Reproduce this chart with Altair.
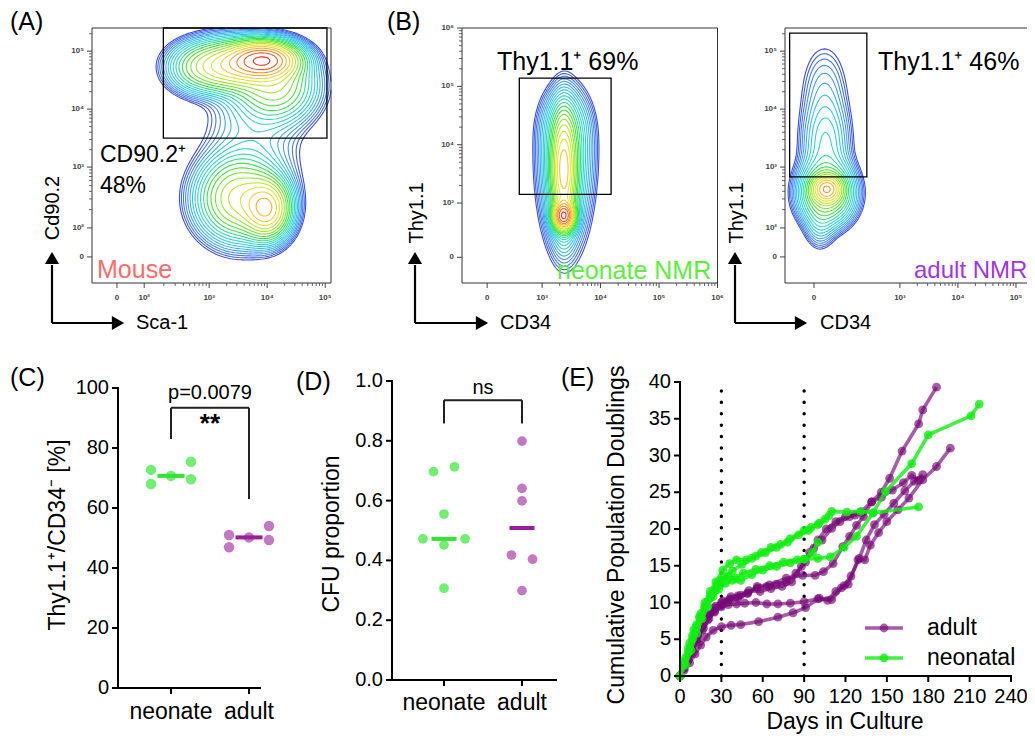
import numpy as np
import pandas as pd
import altair as alt

FONT = "Liberation Sans, Arial, Helvetica, sans-serif"

# ====================== DATA ======================
# ---- (A) mouse: Sca-1 (x) vs Cd90.2 (y); display units in decades (10^3 -> 3)
a_mu_x = [3.95, 3.35, 4.15, 2.75, 4.00, 3.50, 3.75]
a_mu_y = [4.85, 4.75, 4.40, 4.70, 2.28, 2.45, 3.40]
a_sd_x = [0.32, 0.45, 0.40, 0.30, 0.22, 0.40, 0.50]
a_sd_y = [0.17, 0.25, 0.35, 0.25, 0.28, 0.40, 0.90]
a_wt = [1.00, 0.45, 0.25, 0.08, 0.55, 0.35, 0.05]
a_xtick_pos = [1.41, 1.88, 3.0, 4.0, 5.0]
a_xtick_lab = ["0", "10²", "10³", "10⁴", "10⁵"]
a_ytick_pos = [1.45, 1.95, 3.0, 4.0, 5.0]
a_ytick_lab = ["0", "10²", "10³", "10⁴", "10⁵"]
a_gate = [2.21, 5.03, 3.50, 5.40]

# ---- (B) neonate NMR: CD34 (x) vs Thy1.1 (y)
b1_mu_x = [3.37, 3.37, 3.40, 3.40, 3.42]
b1_mu_y = [2.78, 3.55, 3.45, 4.35, 3.90]
b1_sd_x = [0.10, 0.12, 0.26, 0.25, 0.28]
b1_sd_y = [0.13, 0.55, 0.80, 0.35, 0.55]
b1_wt = [1.00, 0.50, 0.10, 0.05, 0.04]
b1_xtick_pos = [2.06, 3.0, 4.0, 5.0, 6.0]
b1_xtick_lab = ["0", "10³", "10⁴", "10⁵", "10⁶"]
b1_ytick_pos = [2.07, 3.0, 4.0, 5.0, 6.0]
b1_ytick_lab = ["0", "10³", "10⁴", "10⁵", "10⁶"]
b1_gate = [2.61, 4.18, 3.15, 5.14]

# ---- (B) adult NMR
b2_mu_x = [1.74, 1.74, 1.72, 1.70, 1.62]
b2_mu_y = [2.62, 2.55, 3.40, 4.35, 2.00]
b2_sd_x = [0.14, 0.26, 0.24, 0.25, 0.15]
b2_sd_y = [0.13, 0.30, 0.45, 0.50, 0.25]
b2_wt = [1.00, 0.45, 0.12, 0.045, 0.06]
b2_xtick_pos = [1.52, 3.0, 4.0, 5.0]
b2_xtick_lab = ["0", "10³", "10⁴", "10⁵"]
b2_ytick_pos = [1.45, 1.95, 3.0, 4.0, 5.0]
b2_ytick_lab = ["0", "10²", "10³", "10⁴", "10⁵"]
b2_gate = [1.10, 2.43, 2.83, 5.31]

# ---- (C) Thy1.1+/CD34- [%]
c_neonate = [72.7, 68.0, 70.7, 75.4, 69.6]
c_neonate_slot = [-1, -1, 0, 1, 1]
c_adult = [51.0, 46.9, 50.2, 54.0, 49.3]
c_adult_slot = [-1, -1, 0, 1, 1]
c_ytick = [0, 20, 40, 60, 80, 100]

# ---- (D) CFU proportion
d_neonate = [0.697, 0.713, 0.555, 0.472, 0.472, 0.452, 0.307]
d_neonate_slot = [-1, 1, 0, -2, 2, 0, 0]
d_adult = [0.799, 0.641, 0.599, 0.418, 0.404, 0.299]
d_adult_slot = [0, 0, 0, -1, 1, 0]
d_ytick = [0.0, 0.2, 0.4, 0.6, 0.8, 1.0]
d_ytick_lab = ["0.0", "0.2", "0.4", "0.6", "0.8", "1.0"]

cats = ["neonate", "adult"]

# ---- (E) cumulative population doublings
adult1_days = [0, 3, 6, 9, 13, 17, 21, 25, 30, 35, 42, 49, 56, 63, 70, 77, 84, 91, 97, 103, 110, 116, 123, 131, 139, 146, 152, 161, 173, 176, 186]
adult1_pd = [0, 1.0, 2.2, 3.5, 5.0, 6.5, 7.8, 8.8, 9.6, 10.1, 10.6, 11.2, 12.0, 12.2, 12.5, 12.8, 14.0, 15.5, 17.4, 18.5, 20.1, 21.0, 21.7, 22.3, 23.7, 25.0, 26.9, 30.6, 34.3, 36.2, 39.3]
adult2_days = [0, 3, 7, 11, 15, 19, 24, 30, 37, 44, 57, 71, 82, 91, 101, 110, 117, 122, 129, 134, 138, 144, 150, 158, 166, 176, 186, 196]
adult2_pd = [0, 0.8, 1.8, 3.0, 4.2, 5.3, 6.2, 6.7, 6.9, 7.0, 7.4, 8.0, 8.6, 9.3, 10.6, 10.4, 12.0, 12.5, 15.8, 15.8, 17.8, 19.5, 21.0, 22.6, 24.2, 26.7, 28.5, 31.0]
adult3_days = [0, 4, 8, 12, 16, 20, 25, 30, 35, 41, 47, 55, 63, 71, 80, 90, 100, 107, 113, 119, 124, 130, 135, 141, 148, 155, 163, 170, 176]
adult3_pd = [0, 1.5, 3.0, 4.6, 6.2, 7.6, 8.7, 9.4, 9.7, 9.8, 9.9, 10.0, 9.8, 9.8, 9.9, 10.1, 10.5, 10.3, 11.5, 12.3, 13.6, 16.0, 18.5, 20.6, 22.0, 23.5, 25.2, 26.5, 27.4]
adult4_days = [0, 4, 8, 12, 16, 20, 25, 30, 36, 42, 49, 56, 65, 77, 89, 98, 104, 111, 118, 123, 128, 133, 139, 146, 154, 162, 168, 173]
adult4_pd = [0, 1.8, 3.5, 5.0, 6.7, 8.2, 9.3, 10.0, 10.5, 10.9, 11.3, 12.2, 12.4, 13.3, 13.7, 13.7, 14.2, 15.3, 17.6, 19.0, 20.5, 21.7, 23.7, 24.3, 25.3, 26.3, 27.3, 26.6]
adult5_days = [0, 5, 9, 13, 17, 21, 26, 31, 37, 44, 50, 58, 66, 74, 81, 88, 94, 100, 106, 113, 120, 127, 132]
adult5_pd = [0, 2.0, 3.9, 5.5, 7.0, 8.4, 9.5, 10.2, 10.8, 11.0, 11.6, 11.5, 11.9, 12.2, 12.8, 14.9, 16.8, 18.5, 20.0, 21.0, 21.7, 21.9, 22.3]
neo1_days = [0, 3, 6, 9, 12, 15, 18, 22, 26, 30, 35, 40, 46, 55, 65, 75, 85, 90, 100, 109, 119, 128, 140, 149, 168, 180, 211, 217]
neo1_pd = [0, 1.6, 3.2, 5.0, 6.6, 8.0, 9.3, 10.6, 11.8, 13.0, 13.5, 13.3, 14.0, 14.5, 15.0, 15.5, 15.8, 15.9, 16.0, 16.2, 17.5, 19.0, 22.2, 25.1, 28.9, 32.8, 35.4, 37.0]
neo2_days = [0, 3, 6, 9, 12, 15, 18, 22, 26, 31, 36, 41, 48, 55, 62, 70, 78, 86, 93, 100, 105, 110, 121, 131, 140, 173]
neo2_pd = [0, 2.0, 3.8, 5.5, 7.0, 8.5, 10.0, 11.5, 12.8, 14.4, 15.3, 15.8, 15.8, 16.3, 16.8, 17.5, 18.2, 19.2, 19.8, 20.6, 21.3, 22.4, 22.3, 22.4, 22.2, 23.0]
neo3_days = [0, 4, 7, 10, 14, 18, 22, 27, 32, 38, 45, 52, 59, 66, 73, 80, 90, 95, 101, 108]
neo3_pd = [0, 2.5, 4.5, 6.3, 8.0, 9.5, 11.0, 12.5, 13.5, 14.3, 15.2, 16.0, 16.8, 17.5, 17.9, 18.7, 19.8, 20.2, 20.8, 21.8]
neo4_days = [0, 4, 8, 12, 16, 20, 24, 28, 33, 38, 44, 52, 60, 70, 80, 90, 96, 100]
neo4_pd = [0, 1.5, 3.5, 5.8, 7.8, 9.4, 10.8, 11.8, 12.6, 13.0, 13.0, 13.8, 14.4, 14.9, 15.4, 15.9, 16.8, 18.2]
e_passage_days = [30, 90]
e_xtick = [0, 30, 60, 90, 120, 150, 180, 210, 240]
e_ytick = [0, 5, 10, 15, 20, 25, 30, 35, 40]

# ====================== HELPERS ======================
JET_STOPS = [0.0, 0.12, 0.28, 0.42, 0.55, 0.68, 0.78, 0.88, 1.0]
JET_COLS = ["#3d4fdc", "#4c86ef", "#37c3ea", "#2fdcc0", "#3be23b",
            "#a6ea2e", "#efe23a", "#f5a332", "#e8321f"]
JET = alt.Scale(domain=JET_STOPS, range=JET_COLS, interpolate="rgb")
PURPLE, GREEN = "#780878", "#11ee11"
P_OP, G_OP = 0.66, 0.8


def lin(domain, rng):
    return alt.Scale(domain=list(domain), range=list(rng), nice=False, zero=False, padding=0)


def density(mx, my, sx, sy, w, dom_u, dom_v, n=120):
    u = np.linspace(dom_u[0], dom_u[1], n)
    v = np.linspace(dom_v[0], dom_v[1], n)
    U, V = np.meshgrid(u, v)
    Z = np.zeros_like(U)
    for a, b, c, d, e in zip(mx, my, sx, sy, w):
        Z += e * np.exp(-0.5 * (((U - a) / c) ** 2 + ((V - b) / d) ** 2))
    return u, v, Z


def trace(u, v, Z, level):
    A = Z >= level
    cnt = A[:-1, :-1].astype(int) + A[:-1, 1:] + A[1:, :-1] + A[1:, 1:]
    cells = np.argwhere((cnt > 0) & (cnt < 4))
    pts, adj = {}, {}

    def ept(key):
        if key in pts:
            return
        kind, j, i = key
        if kind == "h":
            za, zb = Z[j, i], Z[j, i + 1]
            t = (level - za) / (zb - za)
            pts[key] = (u[i] + t * (u[i + 1] - u[i]), v[j])
        else:
            za, zb = Z[j, i], Z[j + 1, i]
            t = (level - za) / (zb - za)
            pts[key] = (u[i], v[j] + t * (v[j + 1] - v[j]))

    def link(k1, k2):
        ept(k1)
        ept(k2)
        adj.setdefault(k1, []).append(k2)
        adj.setdefault(k2, []).append(k1)

    for j, i in cells:
        c00, c10, c01, c11 = A[j, i], A[j, i + 1], A[j + 1, i], A[j + 1, i + 1]
        B, T, L, R = ("h", j, i), ("h", j + 1, i), ("v", j, i), ("v", j, i + 1)
        es = []
        if c00 != c10:
            es.append(B)
        if c10 != c11:
            es.append(R)
        if c11 != c01:
            es.append(T)
        if c01 != c00:
            es.append(L)
        if len(es) == 2:
            link(es[0], es[1])
        elif len(es) == 4:
            centre = (Z[j, i] + Z[j, i + 1] + Z[j + 1, i] + Z[j + 1, i + 1]) / 4 >= level
            if c00 != centre:
                link(B, L)
                link(R, T)
            else:
                link(B, R)
                link(L, T)
    seen, lines = set(), []
    keys = list(adj.keys())
    for s in [k for k in keys if len(adj[k]) == 1] + keys:
        if s in seen:
            continue
        path, cur = [s], s
        seen.add(s)
        while True:
            nxt = [q for q in adj[cur] if q not in seen]
            if not nxt:
                if s in adj[cur] and len(path) > 2:
                    path.append(s)
                break
            cur = nxt[0]
            seen.add(cur)
            path.append(cur)
        lines.append([pts[k] for k in path])
    return lines


def contour_table(mx, my, sx, sy, w, dom_u, dom_v, nlev, lo, cmax):
    u, v, Z = density(mx, my, sx, sy, w, dom_u, dom_v)
    levels = Z.max() * np.geomspace(lo, 0.93, nlev)
    rows = []
    for li, lev in enumerate(levels):
        t = li / (nlev - 1) * cmax
        for n, line in enumerate(trace(u, v, Z, lev)):
            for k, (x, y) in enumerate(line):
                rows.append({"cid": f"{li}_{n}", "idx": k, "u": round(float(x), 4),
                             "v": round(float(y), 4), "lev": round(t, 3)})
    return pd.DataFrame(rows)


def minors(pos, lab, dom):
    out = []
    for k in range(len(pos) - 1):
        if lab[k] == "0":
            continue
        a, b = pos[k], pos[k + 1]
        out += [a + np.log10(m) * (b - a) for m in range(2, 10)]
    a = pos[-1]
    step = pos[-1] - pos[-2]
    out += [a + np.log10(m) * step for m in range(2, 10)]
    return [p for p in out if dom[0] <= p <= dom[1]]


def one():
    return pd.DataFrame({"k": [0]})


def text(s, x, y, size, color="black", align="left", angle=0, weight="normal", baseline="middle"):
    return alt.Chart(pd.DataFrame({"t": [s]})).mark_text(
        font=FONT, fontSize=size, color=color, align=align, angle=angle,
        fontWeight=weight, baseline=baseline
    ).encode(text="t:N", x=alt.value(x), y=alt.value(y))


def seg(x1, y1, x2, y2, w=2.2):
    return alt.Chart(one()).mark_rule(color="black", strokeWidth=w).encode(
        x=alt.value(x1), y=alt.value(y1), x2=alt.value(x2), y2=alt.value(y2))


def head(x, y, shape):
    return alt.Chart(one()).mark_point(shape=shape, size=200, filled=True, color="black",
                                       opacity=1).encode(x=alt.value(x), y=alt.value(y))


def flow_panel(mx, my, sx, sy, w, dom_u, dom_v, rng_u, rng_v, xt_pos, xt_lab,
               yt_pos, yt_lab, gate, nlev, cmax):
    xs, ys = lin(dom_u, rng_u), lin(dom_v, rng_v)
    X = lambda f: alt.X(f"{f}:Q", scale=xs, axis=None)
    Y = lambda f: alt.Y(f"{f}:Q", scale=ys, axis=None)
    bottom, left = rng_v[0], rng_u[0]
    out = []
    cdf = contour_table(mx, my, sx, sy, w, dom_u, dom_v, nlev, 0.012, cmax)
    out.append(alt.Chart(cdf).mark_line(strokeWidth=1.1).encode(
        x=X("u"), y=Y("v"), detail="cid:N", order="idx:Q",
        color=alt.Color("lev:Q", scale=JET, legend=None)))
    frame = pd.DataFrame({"u0": [dom_u[0]], "u1": [dom_u[1]], "v0": [dom_v[0]], "v1": [dom_v[1]]})
    out.append(alt.Chart(frame).mark_rect(fillOpacity=0, stroke="#333", strokeWidth=1).encode(
        x=X("u0"), x2="u1", y=Y("v0"), y2="v1"))
    g = pd.DataFrame({"u0": [gate[0]], "u1": [gate[1]], "v0": [gate[2]], "v1": [gate[3]]})
    out.append(alt.Chart(g).mark_rect(fillOpacity=0, stroke="black", strokeWidth=1.3).encode(
        x=X("u0"), x2="u1", y=Y("v0"), y2="v1"))
    xt = pd.DataFrame({"pos": xt_pos, "lab": xt_lab})
    yt = pd.DataFrame({"pos": yt_pos, "lab": yt_lab})
    xm = pd.DataFrame({"pos": minors(xt_pos, xt_lab, dom_u)})
    ym = pd.DataFrame({"pos": minors(yt_pos, yt_lab, dom_v)})
    out.append(alt.Chart(xt).mark_rule(color="#444", strokeWidth=1).encode(
        x=X("pos"), y=alt.value(bottom), y2=alt.value(bottom + 5)))
    out.append(alt.Chart(xm).mark_rule(color="#444", strokeWidth=0.8).encode(
        x=X("pos"), y=alt.value(bottom), y2=alt.value(bottom + 3)))
    out.append(alt.Chart(yt).mark_rule(color="#444", strokeWidth=1).encode(
        y=Y("pos"), x=alt.value(left - 5), x2=alt.value(left)))
    out.append(alt.Chart(ym).mark_rule(color="#444", strokeWidth=0.8).encode(
        y=Y("pos"), x=alt.value(left - 3), x2=alt.value(left)))
    out.append(alt.Chart(xt).mark_text(font=FONT, fontSize=8, fontWeight="bold", color="#444",
                                       baseline="middle").encode(
        x=X("pos"), y=alt.value(bottom + 15), text="lab:N"))
    out.append(alt.Chart(yt).mark_text(font=FONT, fontSize=8, fontWeight="bold", color="#444",
                                       baseline="middle", align="right").encode(
        y=Y("pos"), x=alt.value(left - 8), text="lab:N"))
    return out


def cart_axes(X, Y, xdom, ydom, left, bottom, yt, ytl, xt, xtl, xdy, xsize, ysize=20):
    out = []
    yl = pd.DataFrame({"a": [ydom[0]], "b": [ydom[1]]})
    xl = pd.DataFrame({"a": [xdom[0]], "b": [xdom[1]]})
    out.append(alt.Chart(yl).mark_rule(color="black", strokeWidth=2, strokeCap="square").encode(
        x=alt.value(left), y=Y("a"), y2="b"))
    out.append(alt.Chart(xl).mark_rule(color="black", strokeWidth=2, strokeCap="square").encode(
        y=alt.value(bottom), x=X("a"), x2="b"))
    ydf = pd.DataFrame({"p": yt, "l": ytl})
    xdf = pd.DataFrame({"p": xt, "l": xtl})
    out.append(alt.Chart(ydf).mark_rule(color="black", strokeWidth=2).encode(
        y=Y("p"), x=alt.value(left - 6), x2=alt.value(left)))
    out.append(alt.Chart(ydf).mark_text(font=FONT, fontSize=ysize, align="right",
                                        baseline="middle").encode(
        y=Y("p"), x=alt.value(left - 9), text="l:N"))
    out.append(alt.Chart(xdf).mark_rule(color="black", strokeWidth=2).encode(
        x=X("p"), y=alt.value(bottom), y2=alt.value(bottom + 6)))
    out.append(alt.Chart(xdf).mark_text(font=FONT, fontSize=xsize, baseline="middle").encode(
        x=X("p"), y=alt.value(bottom + xdy), text="l:N"))
    return out


layers = []

# ====================== (A) ======================
layers += flow_panel(a_mu_x, a_mu_y, a_sd_x, a_sd_y, a_wt, [0.98, 5.10], [1.0, 5.40],
                     [84, 323], [275, 20], a_xtick_pos, a_xtick_lab, a_ytick_pos, a_ytick_lab,
                     a_gate, 22, 1.0)
layers += [
    text("(A)", 2, 14, 25),
    text("CD90.2⁺", 92, 147, 23),
    text("48%", 92, 178, 23),
    text("Mouse", 89, 262, 25, color="#ff6b6b"),
    seg(44, 315, 44, 257), head(44, 250, "triangle-up"),
    seg(44, 315, 105, 315), head(110, 315, "triangle-right"),
    text("Sca-1", 128, 315, 20),
    text("Cd90.2", 45, 200, 20, align="center", angle=270),
]

# ====================== (B) neonate ======================
layers += flow_panel(b1_mu_x, b1_mu_y, b1_sd_x, b1_sd_y, b1_wt, [1.63, 6.0], [1.63, 6.0],
                     [454, 709.5], [275, 20], b1_xtick_pos, b1_xtick_lab, b1_ytick_pos,
                     b1_ytick_lab, b1_gate, 24, 1.0)
layers += [
    text("(B)", 379, 14, 25),
    text("Thy1.1⁺ 69%", 489, 54, 25),
    text("neonate NMR", 549, 263, 25, color="#5cf03a"),
    seg(407, 315, 407, 257), head(407, 250, "triangle-up"),
    seg(407, 315, 469, 315), head(474, 315, "triangle-right"),
    text("CD34", 492, 315, 20),
    text("Thy1.1", 409, 205, 20, align="center", angle=270),
]

# ====================== (B) adult ======================
layers += flow_panel(b2_mu_x, b2_mu_y, b2_sd_x, b2_sd_y, b2_wt, [1.02, 5.50], [1.0, 5.40],
                     [777, 1037], [275, 20], b2_xtick_pos, b2_xtick_lab, b2_ytick_pos,
                     b2_ytick_lab, b2_gate, 21, 0.9)
layers += [
    text("Thy1.1⁺ 46%", 870, 54, 25),
    text("adult NMR", 906, 263, 24, color="#a235e8"),
    seg(727, 315, 727, 257), head(727, 250, "triangle-up"),
    seg(727, 315, 787, 315), head(793, 315, "triangle-right"),
    text("CD34", 812, 315, 20),
    text("Thy1.1", 729, 205, 20, align="center", angle=270),
]

# ====================== (C) ======================
cxd, cyd = [-0.679, 1.141], [0, 100]
cxs, cys = lin(cxd, [110, 252]), lin(cyd, [680, 380])
CX = lambda f: alt.X(f"{f}:Q", scale=cxs, axis=None)
CY = lambda f: alt.Y(f"{f}:Q", scale=cys, axis=None)
c_neo_df = pd.DataFrame({"cat": 0, "slot": c_neonate_slot, "val": c_neonate})
c_ad_df = pd.DataFrame({"cat": 1, "slot": c_adult_slot, "val": c_adult})
for df, pc, mc in [(c_neo_df, "#70ef70", "#33e233"), (c_ad_df, "#c478c4", "#9a1f9a")]:
    layers.append(alt.Chart(df).transform_calculate(xp="datum.cat + datum.slot * 0.256").mark_circle(
        size=110, color=pc, opacity=1).encode(x=CX("xp"), y=CY("val")))
    layers.append(alt.Chart(df).transform_aggregate(med="median(val)", groupby=["cat"]).mark_tick(
        orient="horizontal", size=27, thickness=4, color=mc, opacity=1).encode(x=CX("cat"), y=CY("med")))
c_br = pd.DataFrame({"x0": [0, 0, 1], "x1": [0, 1, 1], "y0": [83, 93.4, 63], "y1": [93.4, 93.4, 93.4]})
layers.append(alt.Chart(c_br).mark_rule(color="#222", strokeWidth=2).encode(
    x=CX("x0"), x2="x1", y=CY("y0"), y2="y1"))
c_ann = pd.DataFrame({"x": [0.5], "y": [98.3], "t": ["p=0.0079"]})
layers.append(alt.Chart(c_ann).mark_text(font=FONT, fontSize=20, baseline="middle").encode(
    x=CX("x"), y=CY("y"), text="t:N"))
c_star = pd.DataFrame({"x": [0.5], "y": [92.3], "t": ["**"]})
layers.append(alt.Chart(c_star).mark_text(font=FONT, fontSize=26, fontWeight="bold",
                                          baseline="top").encode(x=CX("x"), y=CY("y"), text="t:N"))
layers += cart_axes(CX, CY, cxd, cyd, 110, 680, c_ytick, [str(t) for t in c_ytick],
                    [0, 1], cats, 24, 23)
layers += [
    text("(C)", 2, 370, 25),
    text("Thy1.1⁺/CD34⁻ [%]", 50, 527, 23, align="center", angle=270),
]

# ====================== (D) ======================
dxd, dyd = [-0.667, 1.436], [0, 1]
dxs, dys = lin(dxd, [384, 548]), lin(dyd, [672, 373])
DX = lambda f: alt.X(f"{f}:Q", scale=dxs, axis=None)
DY = lambda f: alt.Y(f"{f}:Q", scale=dys, axis=None)
d_neo_df = pd.DataFrame({"cat": 0, "slot": d_neonate_slot, "val": d_neonate})
d_ad_df = pd.DataFrame({"cat": 1, "slot": d_adult_slot, "val": d_adult})
for df, pc, mc in [(d_neo_df, "#70ef70", "#33e233"), (d_ad_df, "#c478c4", "#9a1f9a")]:
    layers.append(alt.Chart(df).transform_calculate(xp="datum.cat + datum.slot * 0.135").mark_circle(
        size=95, color=pc, opacity=1).encode(x=DX("xp"), y=DY("val")))
    layers.append(alt.Chart(df).transform_aggregate(med="median(val)", groupby=["cat"]).mark_tick(
        orient="horizontal", size=25, thickness=4, color=mc, opacity=1).encode(x=DX("cat"), y=DY("med")))
d_br = pd.DataFrame({"x0": [0, 0, 1], "x1": [0, 1, 1], "y0": [0.858, 0.936, 0.858],
                     "y1": [0.936, 0.936, 0.936]})
layers.append(alt.Chart(d_br).mark_rule(color="#222", strokeWidth=2).encode(
    x=DX("x0"), x2="x1", y=DY("y0"), y2="y1"))
d_ann = pd.DataFrame({"x": [0.5], "y": [0.977], "t": ["ns"]})
layers.append(alt.Chart(d_ann).mark_text(font=FONT, fontSize=20, baseline="middle").encode(
    x=DX("x"), y=DY("y"), text="t:N"))
layers += cart_axes(DX, DY, dxd, dyd, 384, 672, d_ytick, d_ytick_lab, [0, 1], cats, 23, 23)
layers += [
    text("(D)", 288, 374, 25),
    text("CFU proportion", 324, 526, 23, align="center", angle=270),
]

# ====================== (E) ======================
exd, eyd = [0, 240], [0, 40]
exs, eys = lin(exd, [672, 1003]), lin(eyd, [668, 374])
EX = lambda f: alt.X(f"{f}:Q", scale=exs, axis=None)
EY = lambda f: alt.Y(f"{f}:Q", scale=eys, axis=None)
vl = pd.DataFrame({"d": e_passage_days, "a": 0, "b": 40})
layers.append(alt.Chart(vl).mark_rule(color="black", strokeWidth=3.4, strokeDash=[0.1, 11.3],
                                      strokeCap="round").encode(x=EX("d"), y=EY("a"), y2="b"))


def series(days_list, pd_list, prefix):
    rows = []
    for n, (ds, ps) in enumerate(zip(days_list, pd_list)):
        for k, (d, p) in enumerate(zip(ds, ps)):
            rows.append({"line": f"{prefix}{n}", "idx": k, "day": d, "pd": p})
    return pd.DataFrame(rows)


adult_df = series([adult1_days, adult2_days, adult3_days, adult4_days, adult5_days],
                  [adult1_pd, adult2_pd, adult3_pd, adult4_pd, adult5_pd], "a")
neo_df = series([neo1_days, neo2_days, neo3_days, neo4_days],
                [neo1_pd, neo2_pd, neo3_pd, neo4_pd], "n")
for df, col, op in [(adult_df, PURPLE, P_OP), (neo_df, GREEN, G_OP)]:
    layers.append(alt.Chart(df).mark_line(color=col, strokeWidth=3.6, opacity=op).encode(
        x=EX("day"), y=EY("pd"), detail="line:N", order="idx:Q"))
    layers.append(alt.Chart(df).mark_circle(color=col, size=78, opacity=op).encode(
        x=EX("day"), y=EY("pd")))
layers += cart_axes(EX, EY, exd, eyd, 672, 668, e_ytick, [str(t) for t in e_ytick],
                    e_xtick, [str(t) for t in e_xtick], 21, 20)
# legend
for i, (lab, col, op) in enumerate([("adult", PURPLE, P_OP), ("neonatal", GREEN, G_OP)]):
    yy = 620 + 30 * i
    layers.append(alt.Chart(one()).mark_rule(color=col, strokeWidth=3.6, opacity=op).encode(
        x=alt.value(857), x2=alt.value(895), y=alt.value(yy)))
    layers.append(alt.Chart(one()).mark_circle(color=col, size=78, opacity=op).encode(
        x=alt.value(876), y=alt.value(yy)))
    layers.append(text(lab, 919, yy, 23))
layers += [
    text("(E)", 553, 370, 25),
    text("Cumulative Population Doublings", 609, 527, 23, align="center", angle=270),
    text("Days in Culture", 837, 721, 23, align="center", baseline="alphabetic"),
]

chart = alt.LayerChart(layer=layers).resolve_scale(
    x="independent", y="independent"
).properties(
    width=1019, height=726, autosize=alt.AutoSizeParams(type="none"), padding=0
).configure_view(stroke=None)

chart.save("out.html", embed_options={"renderer": "svg", "actions": False})
